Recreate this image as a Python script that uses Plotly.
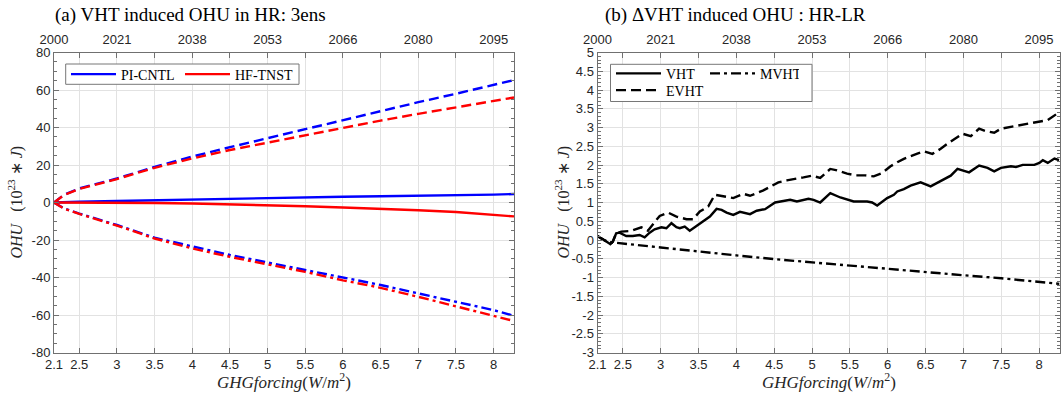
import plotly.graph_objects as go

W, H = 1061, 402

# ---------------- data: panel (a) ----------------
FORCING_A = [2.165, 2.3, 2.5, 3, 3.5, 4, 4.5, 5, 5.5, 6, 6.5, 7, 7.5, 8, 8.27]
PI_VHT = [0, 0.2, 0.4, 0.8, 1.2, 1.7, 2.1, 2.5, 2.8, 3.1, 3.3, 3.5, 3.8, 4.2, 4.5]
HF_VHT = [0, 0, -0.05, -0.1, -0.3, -0.5, -0.9, -1.4, -2.0, -2.7, -3.3, -4.1, -5.1, -6.4, -7.4]
PI_EVHT = [0, 4.2, 7.5, 12.8, 19, 24.5, 29.5, 34.3, 39, 44, 49, 53.5, 58, 62.5, 65.3]
HF_EVHT = [0, 4.0, 7.2, 12.5, 18.5, 23.5, 28, 32, 35.7, 39.8, 43.7, 47.3, 50.8, 54, 56]
PI_MVHT = [0, -3.2, -5.9, -12, -18.8, -23.6, -28, -32, -36, -40, -44, -48.5, -53, -57.4, -60.4]
HF_MVHT = [0, -3.3, -6.1, -12.3, -19.2, -24.5, -29, -33, -37, -41.5, -45.5, -50.3, -55.3, -60.4, -63.2]

# ---------------- data: panel (b) ----------------
VHT_X = [2.165, 2.257, 2.333, 2.367, 2.412, 2.456, 2.545, 2.632, 2.721, 2.788, 2.854, 2.92,
         3.009, 3.075, 3.142, 3.208, 3.252, 3.318, 3.384, 3.473, 3.54, 3.65, 3.739, 3.805,
         3.871, 3.959, 4.048, 4.18, 4.269, 4.379, 4.512, 4.6, 4.711, 4.8, 4.953, 5.02, 5.108,
         5.241, 5.374, 5.55, 5.728, 5.794, 5.861, 5.993, 6.081, 6.126, 6.213, 6.302, 6.435,
         6.567, 6.7, 6.833, 6.922, 7.075, 7.208, 7.319, 7.407, 7.496, 7.628, 7.695, 7.784,
         7.937, 8.004, 8.049, 8.115, 8.203, 8.265]
VHT_Y = [0.107, -0.02, -0.107, -0.046, 0.18, 0.196, 0.107, 0.107, 0.134, 0.072, 0.196, 0.287,
         0.34, 0.314, 0.448, 0.34, 0.314, 0.357, 0.249, 0.375, 0.464, 0.625, 0.831, 0.804,
         0.732, 0.67, 0.75, 0.69, 0.78, 0.823, 1.0, 1.027, 1.072, 1.027, 1.1, 1.072, 1.0,
         1.252, 1.134, 1.027, 1.027, 1.0, 0.92, 1.118, 1.206, 1.295, 1.359, 1.448, 1.536,
         1.429, 1.563, 1.716, 1.895, 1.804, 1.984, 1.922, 1.831, 1.922, 1.965, 1.949, 2.003,
         2.003, 2.056, 2.126, 2.056, 2.172, 2.13]
EVHT_X = [2.165, 2.257, 2.333, 2.367, 2.412, 2.479, 2.611, 2.744, 2.831, 2.943, 2.987, 3.097,
          3.208, 3.341, 3.428, 3.517, 3.627, 3.716, 3.826, 3.959, 4.091, 4.18, 4.357, 4.445,
          4.555, 4.667, 4.8, 4.887, 4.998, 5.108, 5.241, 5.33, 5.463, 5.573, 5.705, 5.815,
          5.927, 6.037, 6.126, 6.213, 6.391, 6.478, 6.59, 6.7, 6.789, 6.899, 6.988, 7.098,
          7.208, 7.297, 7.407, 7.496, 7.651, 7.784, 7.916, 8.026, 8.115, 8.225, 8.27]
EVHT_Y = [0.107, -0.02, -0.107, -0.046, 0.18, 0.223, 0.241, 0.34, 0.249, 0.536, 0.643, 0.732,
          0.625, 0.555, 0.555, 0.759, 0.893, 1.206, 1.161, 1.118, 1.233, 1.18, 1.322, 1.413,
          1.536, 1.59, 1.627, 1.67, 1.716, 1.654, 1.895, 1.858, 1.769, 1.724, 1.724, 1.697,
          1.788, 1.965, 2.072, 2.163, 2.306, 2.367, 2.298, 2.432, 2.566, 2.727, 2.834, 2.77,
          2.968, 2.904, 2.861, 2.968, 3.021, 3.083, 3.129, 3.155, 3.198, 3.351, 3.397]
MVHT_X = [2.165, 2.25, 2.33, 2.39, 3.0, 3.5, 4.0, 4.5, 5.0, 5.5, 6.0, 6.5, 7.0, 7.5, 8.0, 8.27]
MVHT_Y = [0.1, 0.0, -0.06, -0.07, -0.2, -0.31, -0.41, -0.51, -0.6, -0.69, -0.78, -0.86,
          -0.94, -1.02, -1.11, -1.17]

# ---------------- ticks ----------------
X_RANGE = [2.165, 8.27]
X_TICKS = [2.165, 2.5, 3, 3.5, 4, 4.5, 5, 5.5, 6, 6.5, 7, 7.5, 8]
X_TICK_LABELS = ["2.1", "2.5", "3", "3.5", "4", "4.5", "5", "5.5", "6", "6.5", "7", "7.5", "8"]
YEAR_TICKS = [2.165, 3, 4, 5, 6, 7, 8]
YEAR_LABELS = ["2000", "2021", "2038", "2053", "2066", "2080", "2095"]
YA_TICKS = [-80, -60, -40, -20, 0, 20, 40, 60, 80]
YA_LABELS = ["-80", "-60", "-40", "-20", "0", "20", "40", "60", "80"]
YB_TICKS = [-3, -2.5, -2, -1.5, -1, -0.5, 0, 0.5, 1, 1.5, 2, 2.5, 3, 3.5, 4, 4.5, 5]
YB_LABELS = ["-3", "-2.5", "-2", "-1.5", "-1", "-0.5", "0", "0.5", "1", "1.5", "2", "2.5",
             "3", "3.5", "4", "4.5", "5"]


def px_x(p):
    return p / W


def px_y(p):
    return 1 - p / H


L_X0, L_X1 = 54, 514
R_X0, R_X1 = 597.5, 1059.5
Y_TOP, Y_BOT = 52.5, 352.5

BLUE, RED, BLACK = "#0000ff", "#ff0000", "#000000"
DASH = "10px,5px"
DASHDOT = "10px,4px,3px,4px"
LW = 2.4

fig = go.Figure()


def add(x, y, color, dash, name, xa, ya, legend=None, show=False):
    fig.add_trace(go.Scatter(
        x=x, y=y, mode="lines", name=name, xaxis=xa, yaxis=ya,
        line=dict(color=color, width=LW, dash=dash),
        showlegend=show, legend=legend, hoverinfo="skip"))


# panel (a)
add(FORCING_A, PI_VHT, BLUE, "solid", "PI-CNTL", "x", "y", "legend", True)
add(FORCING_A, HF_VHT, RED, "solid", "HF-TNST", "x", "y", "legend", True)
add(FORCING_A, PI_EVHT, BLUE, DASH, "PI EVHT", "x", "y")
add(FORCING_A, HF_EVHT, RED, DASH, "HF EVHT", "x", "y")
add(FORCING_A, PI_MVHT, BLUE, DASHDOT, "PI MVHT", "x", "y")
add(FORCING_A, HF_MVHT, RED, DASHDOT, "HF MVHT", "x", "y")

# panel (b)
add(VHT_X, VHT_Y, BLACK, "solid", "VHT", "x2", "y2", "legend2", True)
add(MVHT_X, MVHT_Y, BLACK, DASHDOT, "MVHT", "x2", "y2", "legend2", True)
add(EVHT_X, EVHT_Y, BLACK, DASH, "EVHT", "x2", "y2", "legend3", True)

# invisible carriers for the top (year) axes
for xa, ya in (("x3", "y"), ("x4", "y2")):
    fig.add_trace(go.Scatter(x=[YEAR_TICKS[0]], y=[0], xaxis=xa, yaxis=ya, mode="markers",
                             marker=dict(opacity=0), showlegend=False, hoverinfo="skip"))

tickfont = dict(family="Liberation Sans, Arial, sans-serif", size=13, color="#262626")
AX_COL = "#707070"
GRID_COL = "#e2e2e2"
base = dict(showline=True, linecolor=AX_COL, linewidth=1, mirror="ticks", ticks="inside",
            ticklen=5, tickcolor=AX_COL, tickwidth=1, showgrid=True, gridcolor=GRID_COL,
            gridwidth=1, zeroline=False, tickfont=tickfont, fixedrange=True)

ydom = [px_y(Y_BOT), px_y(Y_TOP)]

xa_common = dict(base, range=X_RANGE, tickmode="array", tickvals=X_TICKS, ticktext=X_TICK_LABELS)
top_common = dict(side="top", range=X_RANGE, tickmode="array", tickvals=YEAR_TICKS,
                  ticktext=YEAR_LABELS, ticks="", showgrid=False, showline=False,
                  zeroline=False, tickfont=tickfont, fixedrange=True, ticklabelstandoff=5)

serif = "Liberation Serif, Times New Roman, serif"
legfont = dict(family=serif, size=14, color="black")

fig.update_layout(
    width=W, height=H,
    margin=dict(l=0, r=0, t=0, b=0, autoexpand=False),
    paper_bgcolor="white", plot_bgcolor="white",
    xaxis=dict(xa_common, domain=[px_x(L_X0), px_x(L_X1)], anchor="y"),
    yaxis=dict(base, domain=ydom, anchor="x", range=[-80, 80], tickmode="array",
               tickvals=YA_TICKS, ticktext=YA_LABELS,
               minor=dict(dtick=5, tick0=0, ticks="inside", ticklen=3, tickcolor=AX_COL,
                          showgrid=False)),
    xaxis2=dict(xa_common, domain=[px_x(R_X0), px_x(R_X1)], anchor="y2"),
    yaxis2=dict(base, domain=ydom, anchor="x2", range=[-3, 5], tickmode="array",
                tickvals=YB_TICKS, ticktext=YB_LABELS,
                minor=dict(dtick=0.1, tick0=0, ticks="inside", ticklen=3, tickcolor=AX_COL,
                           showgrid=False)),
    xaxis3=dict(top_common, overlaying="x", anchor="y"),
    xaxis4=dict(top_common, overlaying="x2", anchor="y2"),
    showlegend=True,
    legend=dict(x=px_x(66), y=px_y(58.5), xanchor="left", yanchor="top", orientation="h",
                bgcolor="rgba(0,0,0,0)", borderwidth=0, itemwidth=45,
                entrywidth=54, entrywidthmode="pixels", traceorder="normal", font=legfont),
    legend2=dict(x=px_x(611), y=px_y(57.8), xanchor="left", yanchor="top", orientation="h",
                 bgcolor="rgba(0,0,0,0)", borderwidth=0, itemwidth=45, entrywidth=34,
                 entrywidthmode="pixels", traceorder="normal", font=legfont),
    legend3=dict(x=px_x(611), y=px_y(74.5), xanchor="left", yanchor="top", orientation="h",
                 bgcolor="rgba(0,0,0,0)", borderwidth=0, itemwidth=45,
                 traceorder="normal", font=legfont),
)

# legend border boxes
for x0, x1, y0, y1 in ((65.7, 299, 64, 84.3), (610.5, 812, 64.3, 101.5)):
    fig.add_shape(type="rect", xref="paper", yref="paper", x0=px_x(x0), x1=px_x(x1),
                  y0=px_y(y1), y1=px_y(y0), line=dict(color="#777777", width=1),
                  fillcolor="white", layer="above")

ann = []
ann.append(dict(text="(a) VHT induced OHU in HR: 3ens", x=px_x(53), y=px_y(15), xref="paper",
                yref="paper", xanchor="left", yanchor="middle", showarrow=False,
                font=dict(family=serif, size=19, color="black")))
ann.append(dict(text="(b) \u0394VHT induced OHU : HR-LR", x=px_x(603), y=px_y(15), xref="paper",
                yref="paper", xanchor="left", yanchor="middle", showarrow=False,
                font=dict(family=serif, size=19, color="black")))
xt = "<i>GHGforcing</i>(<i>W</i>/<i>m</i><sup>2</sup>)"
yt = "<i>OHU</i>&nbsp;&nbsp;&nbsp;(10<sup>23</sup> \u2217 <i>J</i>)"
for cx in ((L_X0 + L_X1) / 2, (R_X0 + R_X1) / 2):
    ann.append(dict(text=xt, x=px_x(cx), y=px_y(381), xref="paper", yref="paper",
                    xanchor="center", yanchor="middle", showarrow=False,
                    font=dict(family=serif, size=17, color="#262626")))
for cx in (16, 563):
    ann.append(dict(text=yt, x=px_x(cx), y=px_y((Y_TOP + Y_BOT) / 2), xref="paper",
                    yref="paper", xanchor="center", yanchor="middle", textangle=-90,
                    showarrow=False, font=dict(family=serif, size=16, color="#262626")))
fig.update_layout(annotations=ann)

fig.write_html("out.html", config={"displayModeBar": False},
               post_script="document.body.style.margin='0';document.body.style.padding='0';"
                           "document.documentElement.style.overflow='hidden';")
